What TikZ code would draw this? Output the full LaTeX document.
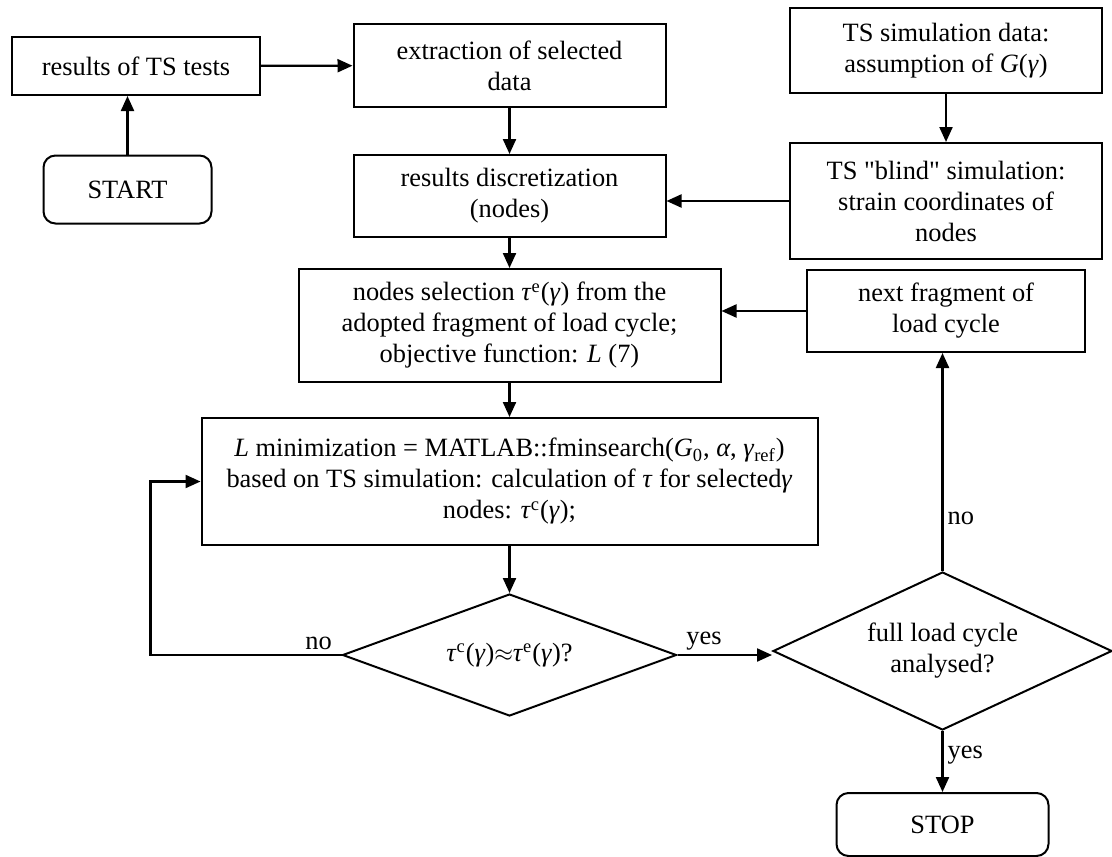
\documentclass[tikz,border=0pt]{standalone}
\usepackage{fontspec}
\setmainfont{Liberation Serif}
\newfontfamily\qtfont[Ligatures=TeXOff]{Liberation Serif}
\usepackage{tikz}
\usetikzlibrary{shapes.geometric, arrows.meta, positioning}
\tikzset{
    startstop/.style={rectangle, rounded corners=6pt, draw, line width=1pt, minimum width=84pt, minimum height=34pt},
    process/.style={rectangle, draw, line width=1pt, align=center, inner sep=2pt},
    decision/.style={diamond, draw, line width=1pt, align=center, inner sep=0pt},
    arrow/.style={-{Triangle[length=7.5pt, width=6.5pt]}, line width=1.1pt},
    lbl/.style={inner sep=2pt}
}
\newcommand{\tgam}{(\textit{γ})}
\newcommand{\qt}{{\qtfont"}}

\begin{document}
\begin{tikzpicture}[x=0.5pt, y=-0.5pt, font=\fontsize{13.2}{15.5}\selectfont]
    \useasboundingbox (0,0) rectangle (1112,856);
    \node (tests) [process, minimum width=124pt, minimum height=29pt] at (136,66) {results of TS tests};
    \node (start) [startstop] at (127.5,189.5) {START};
    \node (extr) [process, minimum width=156pt, minimum height=41.5pt] at (509.5,65.5) {extraction of selected\\data};
    \node (discr) [process, minimum width=156pt, minimum height=41pt] at (509.5,196) {results discretization\\(nodes)};
    \node (simdata) [process, minimum width=156pt, minimum height=42.5pt] at (946,50.5) {TS simulation data:\\assumption of \textit{G}\tgam};
    \node (blind) [process, minimum width=156pt, minimum height=58pt] at (946,201) {TS \qt blind\qt{} simulation:\\strain coordinates of\\nodes};
    \node (sel) [process, minimum width=211pt, minimum height=56.5pt] at (509.5,325.5) {nodes selection \textit{τ}\textsuperscript{e}\tgam{} from the\\adopted fragment of load cycle;\\objective function: \textit{L} (7)};
    \node (next) [process, minimum width=139pt, minimum height=41pt] at (946,311) {next fragment of\\load cycle};
    \node (minim) [process, minimum width=308pt, minimum height=63.5pt] at (509.5,481.5) {\textit{L} minimization = MATLAB::fminsearch(\textit{G}\textsubscript{0}, \textit{α}, \textit{γ}\textsubscript{ref})\\based on TS simulation: calculation of \textit{τ} for selected\textit{γ}\\nodes: \textit{τ}\textsuperscript{c}\tgam;};
    \node (check) [decision, aspect=2.7, minimum width=167pt, minimum height=61pt] at (509.5,655) {\textit{τ}\textsuperscript{c}\tgam$\approx$\textit{τ}\textsuperscript{e}\tgam?};
    \node (full) [decision, aspect=2.1, minimum width=169.5pt, minimum height=79pt] at (942.5,651) {full load cycle\\analysed?};
    \node (stop) [startstop, minimum width=106pt, minimum height=31.5pt] at (942.5,824.5) {STOP};

    \draw[arrow] (start) -- (tests.south -| start);
    \draw[arrow] (tests) -- (extr);
    \draw[arrow] (extr) -- (discr);
    \draw[arrow] (simdata) -- (blind);
    \draw[arrow] (blind.west) -- (blind.west -| discr.east);
    \draw[arrow] (discr) -- (sel);
    \draw[arrow] (sel) -- (minim);
    \draw[arrow] (minim) -- (check);
    \draw[arrow] (check.west) -- node[lbl, above, pos=0.12] {no} ++(-191,0) |- (minim.west);
    \draw[arrow] (check.east) -- node[lbl, above, pos=0.28] {yes} (check.east -| full.west);
    \draw[arrow] (full.north) -- node[lbl, right, pos=0.24] {no} (full.north |- next.south);
    \draw[arrow] (next.west) -- (next.west -| sel.east);
    \draw[arrow] (full.south) -- node[lbl, right, pos=0.4] {yes} (stop.north);
\end{tikzpicture}
\end{document}
